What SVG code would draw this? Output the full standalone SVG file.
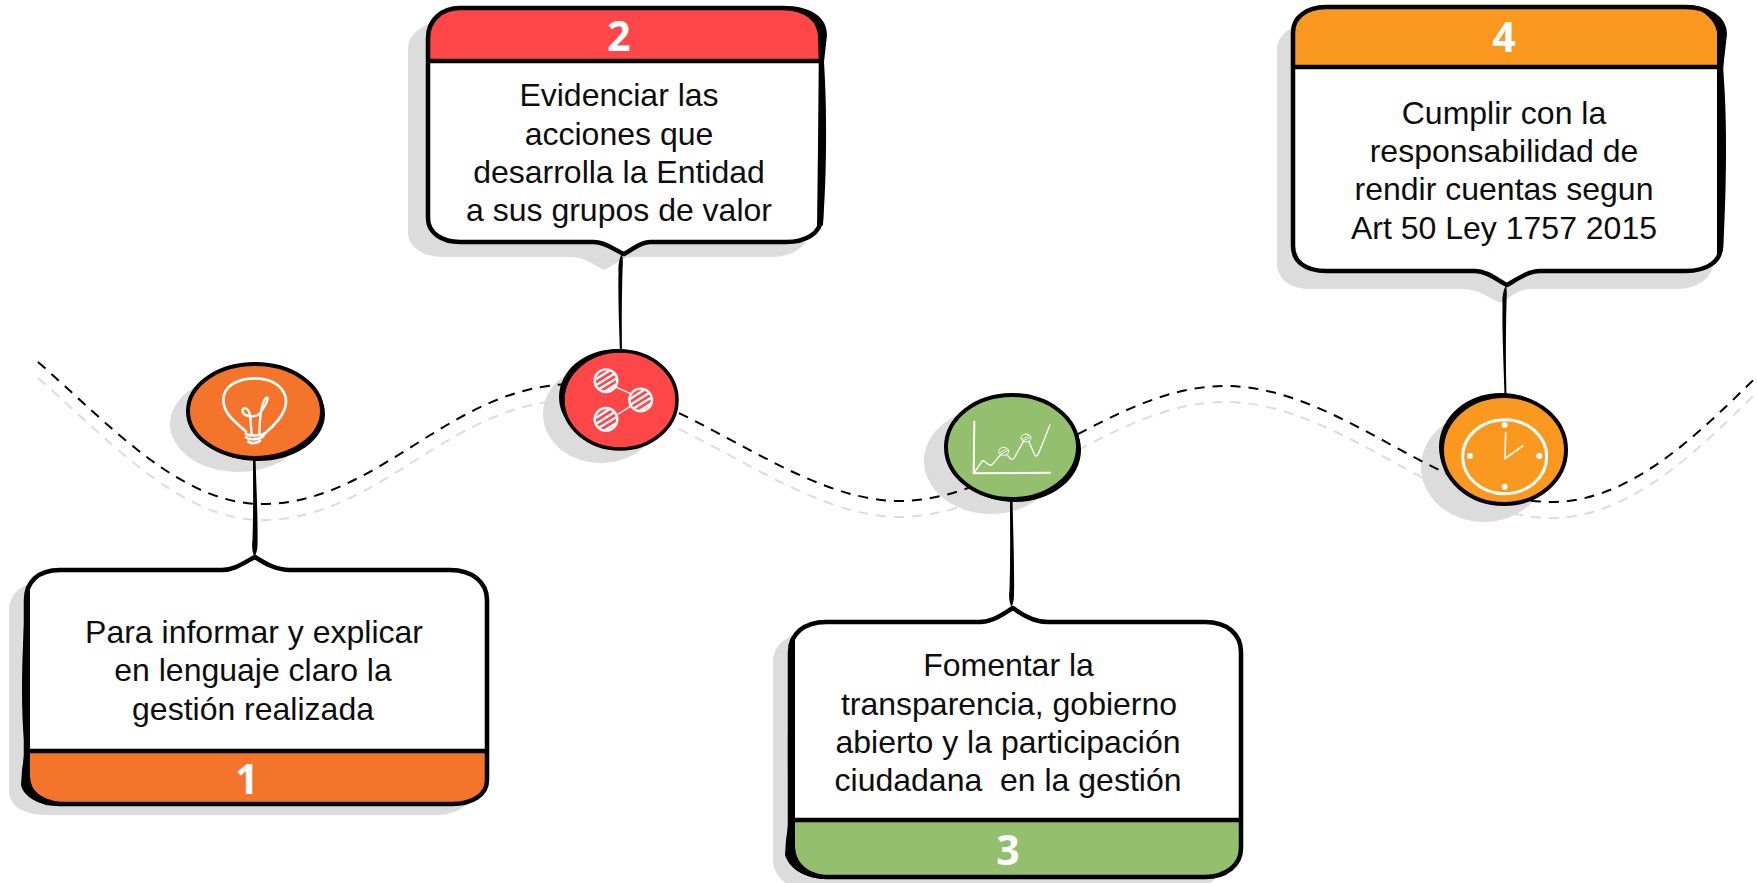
<svg xmlns="http://www.w3.org/2000/svg" width="1757" height="883" viewBox="0 0 1757 883">
<style>
.txt{font-family:"Liberation Sans",Arial,sans-serif;font-size:32px;fill:#0d0d0d;text-anchor:middle}
.num{font-family:"Open Sans","Noto Sans",sans-serif;font-weight:700;font-size:41px;fill:#fff;text-anchor:middle}
.shadow{fill:#dcdcdc;stroke:none}
.out{fill:none;stroke:#000;stroke-width:4.5;stroke-linejoin:round}
.ink{fill:#000;stroke:none}
.rule{fill:none;stroke:#000;stroke-width:4.5}
.dash{fill:none;stroke:#000;stroke-width:2;stroke-dasharray:10 8}
.dash2{fill:none;stroke:#dcdcdc;stroke-width:2;stroke-dasharray:10 8}
.ic{fill:none;stroke:#fff;stroke-linecap:round;stroke-linejoin:round}
.orange{fill:#f4742c}.red{fill:#ff4649}.green{fill:#93bf6f}.amber{fill:#fa9820}
</style>
<defs>
<clipPath id="hc"><circle cx="0" cy="0" r="33"/></clipPath>
<g id="hatch">
<circle r="34" fill="none" stroke="#fff" stroke-width="7"/>
<g clip-path="url(#hc)" stroke="#fff" stroke-width="7">
<path d="M-40,2 L10,-30 M-40,20 L30,-24 M-32,32 L40,-12 M-12,38 L45,2"/>
</g>
</g>
</defs>
<rect width="1757" height="883" fill="#fff"/>
<g id="shadows">
<path class="shadow" d="M46,581 H206 C219,581 229,573 239,568 C247,573 259,581 274,581 H434 C456,581 471,593 471,611 V791 C471,806 456,815 436,815 H46 C24,815 9,806 9,791 V611 C9,593 24,581 46,581 Z"/>
<path class="shadow" d="M444,22 H786 C804,22 808,33 808,50 V232 C808,248 790,257 772,257 H632 C622,257 615,265 604,270 C592,264 585,257 570,257 H444 C424,257 408,248 408,232 V50 C408,33 424,22 444,22 Z"/>
<path class="shadow" d="M809,633 H975 C988,633 998,625 1008,620 C1016,625 1028,633 1043,633 H1190 C1210,633 1223,645 1223,663 V860 C1223,875 1208,890 1190,890 H809 C787,890 773,875 773,860 V663 C773,645 787,633 809,633 Z"/>
<path class="shadow" d="M1310,24 H1680 C1700,24 1713,36 1713,50 V263 C1713,279 1696,289 1676,289 H1530 C1518,289 1510,298 1500,303 C1488,297 1478,289 1462,289 H1310 C1290,289 1277,279 1277,263 V50 C1277,36 1290,24 1310,24 Z"/>
<ellipse class="shadow" cx="238" cy="424" rx="68" ry="48"/>
<ellipse class="shadow" cx="601" cy="414" rx="58" ry="49"/>
<ellipse class="shadow" cx="991" cy="461" rx="67" ry="53"/>
<ellipse class="shadow" cx="1484" cy="467" rx="63" ry="55"/>
</g>
<g id="connectors">
<path class="dash2" d="M38,378 C110,441 180,520 262,520 C380,520 450,400 575,400 C680,400 790,517 900,517 C1010,517 1110,402 1225,402 C1340,402 1440,518 1552,518 C1640,518 1715,432 1775,375"/>
<path class="dash" d="M38,362 C110,425 180,504 262,504 C380,504 450,384 575,384 C680,384 790,501 900,501 C1010,501 1110,386 1225,386 C1340,386 1440,502 1552,502 C1640,502 1715,416 1775,359"/>
<path class="ink" d="M253,458 L255.500,458 C256.500,490 258,520 257.500,545 C257.500,550 256,554 254.500,557 C252.500,553 251.500,548 252.500,540 C253.500,510 253,480 253,458 Z"/>
<path class="ink" d="M620,352 L622,352 C621.500,320 622,290 622.500,270 C623,264 623,258 622,253 C619.500,258 618,264 618.500,272 C618,295 619,325 620,352 Z"/>
<path class="ink" d="M1010,500 L1012.500,500 C1013.500,540 1014.500,570 1014,595 C1014,600 1013,604 1011.500,607 C1009.500,603 1008.500,598 1009.500,590 C1010.500,560 1010,530 1010,500 Z"/>
<path class="ink" d="M1504.500,395 L1506.500,395 C1505.500,355 1506,325 1506.500,302 C1507,295 1507,290 1506,285 C1503.500,290 1502,296 1502.500,304 C1502,330 1503.500,360 1504.500,395 Z"/>
</g>
<g id="node1">
<path fill="#fff" d="M60,570 H222 C235,570 245,562 255,557 C263,562 275,570 290,570 H450 C472,570 487,582 487,600 V780 C487,795 472,804 452,804 H60 C38,804 26,795 26,780 V600 C26,582 38,570 60,570 Z"/>
<path class="orange" d="M26,751 H487 V780 C487,795 472,804 452,804 H60 C38,804 26,795 26,780 Z"/>
<path class="out" d="M60,570 H222 C235,570 245,562 255,557 C263,562 275,570 290,570 H450 C472,570 487,582 487,600 V780 C487,795 472,804 452,804 H60 C38,804 26,795 26,780 V600 C26,582 38,570 60,570 Z"/>
<path class="rule" d="M26,751 H487"/>
<path class="ink" d="M26,590 C22,650 20,710 25,748 L22,770 L21,785 C24,798 40,806 62,805 L60,802 C42,799 30,792 30,775 L30,590 Z"/>
<text class="txt" x="254" y="643">Para informar y explicar</text>
<text class="txt" x="253" y="681">en lenguaje claro la</text>
<text class="txt" x="253" y="720">gestión realizada</text>
<text class="num" x="247" y="794">1</text>
<ellipse class="ink" cx="258" cy="414" rx="67" ry="47"/>
<ellipse class="orange" cx="255" cy="411" rx="67" ry="47" stroke="#000" stroke-width="4"/>
<g transform="translate(170,350) scale(.3333)">
<path class="ic" stroke-width="8" d="M228,245 C195,215 160,190 160,150 C160,110 200,85 255,85 C310,85 348,115 348,155 C348,190 312,228 285,250"/>
<path class="ic" stroke-width="7" d="M245,250 L240,195 C235,170 215,170 218,185 C222,200 255,205 270,190 C285,170 300,140 290,143 C275,150 270,190 268,250"/>
<path class="ic" stroke-width="8" d="M228,252 C240,258 270,258 285,250 M228,262 C240,272 270,268 280,258 M235,275 C245,282 262,280 270,272"/>
</g>
</g>
<g id="node2">
<path fill="#fff" d="M460,8 H783 C805,8 821,20 821,38 V218 C821,233 806,242 786,242 H650 C640,242 632,250 624,254 C614,250 606,242 594,242 H460 C442,242 428,233 428,218 V38 C428,20 442,8 460,8 Z"/>
<path class="red" d="M428,61 H821 V38 C821,20 805,8 783,8 H460 C442,8 428,20 428,38 Z"/>
<path class="out" d="M460,8 H783 C805,8 821,20 821,38 V218 C821,233 806,242 786,242 H650 C640,242 632,250 624,254 C614,250 606,242 594,242 H460 C442,242 428,233 428,218 V38 C428,20 442,8 460,8 Z"/>
<path class="rule" d="M426,61 H823"/>
<path class="ink" d="M790,6 C813,8 827,18 827,35 L824,62 C827,110 827,170 823,225 L817,230 L819,62 L818,35 C816,20 806,12 790,6 Z"/>
<text class="txt" x="619" y="106">Evidenciar las</text>
<text class="txt" x="619" y="145">acciones que</text>
<text class="txt" x="619" y="183">desarrolla la Entidad</text>
<text class="txt" x="619" y="221">a sus grupos de valor</text>
<text class="num" x="619" y="51">2</text>
<ellipse class="ink" cx="617" cy="397" rx="58" ry="48"/>
<ellipse class="red" cx="620" cy="400" rx="57" ry="49" stroke="#000" stroke-width="3.500"/>
<g transform="translate(550,340) scale(.3333)">
<path class="ic" stroke-width="4" d="M200,142 L240,160 M205,222 L240,200"/>
<use href="#hatch" x="168" y="122"/>
<use href="#hatch" x="272" y="180"/>
<use href="#hatch" x="168" y="238"/>
</g>
</g>
<g id="node3">
<path fill="#fff" d="M826,622 H980 C993,622 1003,614 1013,608 C1021,614 1033,622 1048,622 H1205 C1227,622 1241,634 1241,652 V848 C1241,865 1226,877 1205,877 H826 C804,877 790,865 790,848 V652 C790,634 804,622 826,622 Z"/>
<path class="green" d="M790,820 H1241 V848 C1241,865 1226,877 1205,877 H826 C804,877 790,865 790,848 Z"/>
<path class="out" d="M826,622 H980 C993,622 1003,614 1013,608 C1021,614 1033,622 1048,622 H1205 C1227,622 1241,634 1241,652 V848 C1241,865 1226,877 1205,877 H826 C804,877 790,865 790,848 V652 C790,634 804,622 826,622 Z"/>
<path class="rule" d="M789,820 H1243"/>
<path class="ink" d="M790,640 C788,700 787,770 789,818 L786,840 L785,855 C790,870 805,878 826,879 L824,875 C806,872 795,862 795,845 L795,640 Z"/>
<text class="txt" x="1008.500" y="676">Fomentar la</text>
<text class="txt" x="1009" y="715">transparencia, gobierno</text>
<text class="txt" x="1008" y="753">abierto y la participación</text>
<text class="txt" x="1008" y="791" xml:space="preserve">ciudadana  en la gestión</text>
<text class="num" x="1008" y="865">3</text>
<ellipse class="ink" cx="1015" cy="450" rx="66" ry="52"/>
<ellipse class="green" cx="1012" cy="447" rx="66" ry="52" stroke="#000" stroke-width="4"/>
<g transform="translate(930,385) scale(.3333)">
<path class="ic" stroke-width="6" d="M133,110 L131,265 L360,263"/>
<path class="ic" stroke-width="4" d="M131,265 L157,228 Q160,226 165,230 L178,240 Q184,243 190,235 L215,205 M230,208 L242,222 Q248,226 253,218 L280,170 M297,170 L313,208 Q320,220 326,205 L360,120"/>
<ellipse cx="221" cy="199" rx="15" ry="12" fill="#93bf6f" stroke="#fff" stroke-width="3"/>
<ellipse cx="288" cy="159" rx="15" ry="12" fill="#93bf6f" stroke="#fff" stroke-width="3"/>
<path class="ic" stroke-width="2.500" d="M210,203 L230,191 M212,208 L234,196 M277,163 L297,151 M279,168 L301,156"/>
</g>
</g>
<g id="node4">
<path fill="#fff" d="M1326,7 H1686 C1708,7 1721,18 1721,32 V246 C1721,262 1706,271 1686,271 H1540 C1528,271 1516,280 1507,285 C1497,280 1487,271 1475,271 H1326 C1306,271 1293,262 1293,246 V32 C1293,18 1306,7 1326,7 Z"/>
<path class="amber" d="M1293,67 H1721 V32 C1721,18 1708,7 1686,7 H1326 C1306,7 1293,18 1293,32 Z"/>
<path class="out" d="M1326,7 H1686 C1708,7 1721,18 1721,32 V246 C1721,262 1706,271 1686,271 H1540 C1528,271 1516,280 1507,285 C1497,280 1487,271 1475,271 H1326 C1306,271 1293,262 1293,246 V32 C1293,18 1306,7 1326,7 Z"/>
<path class="rule" d="M1291,67 H1723"/>
<path class="ink" d="M1690,5 C1713,8 1727,18 1727,34 L1723,69 C1727,110 1727,180 1723,250 L1717,255 L1717,69 L1717,32 C1715,20 1705,12 1690,5 Z"/>
<text class="txt" x="1504" y="124">Cumplir con la</text>
<text class="txt" x="1504" y="162">responsabilidad de</text>
<text class="txt" x="1504" y="200">rendir cuentas segun</text>
<text class="txt" x="1504" y="239">Art 50 Ley 1757 2015</text>
<text class="num" x="1504" y="52">4</text>
<ellipse class="ink" cx="1501" cy="447" rx="62" ry="54"/>
<ellipse class="amber" cx="1504" cy="450" rx="62" ry="54" stroke="#000" stroke-width="4"/>
<g transform="translate(1420,391) scale(.3333)">
<ellipse cx="254" cy="197" rx="126" ry="111" fill="none" stroke="#fff" stroke-width="9"/>
<path class="ic" stroke-width="5" d="M257,125 L255,203 L308,165"/>
<circle cx="254" cy="102" r="9" fill="#fff"/>
<circle cx="150" cy="195" r="9" fill="#fff"/>
<circle cx="358" cy="195" r="9" fill="#fff"/>
<circle cx="254" cy="287" r="9" fill="#fff"/>
</g>
</g>
</svg>
